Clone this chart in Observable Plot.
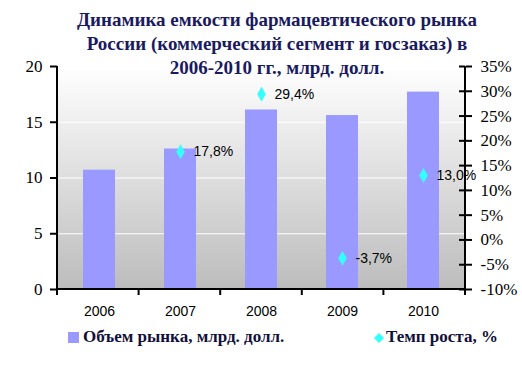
<!DOCTYPE html>
<html>
<head>
<meta charset="utf-8">
<script src="https://cdn.jsdelivr.net/npm/d3@7"></script>
<script src="https://cdn.jsdelivr.net/npm/@observablehq/plot@0.6"></script>
<style>
  html, body { margin: 0; padding: 0; background: #fff; }
  #wrap { position: relative; width: 522px; height: 369px; overflow: hidden; }
  #title { position: absolute; left: 0; top: 8px; width: 554px; text-align: center;
    font-family: "Liberation Serif", "Times New Roman", serif; font-weight: bold; font-size: 19px; line-height: 24px; color: #1a1a60; }
  .leg { position: absolute; font-family: "Liberation Serif", "Times New Roman", serif; font-weight: bold; font-size: 17px; line-height: 20px; color: #10103a; white-space: nowrap; }
</style>
</head>
<body>
<div id="wrap">
  <div id="chart"></div>
  <div id="title">Динамика емкости фармацевтического рынка<br>России (коммерческий сегмент и госзаказ) в<br>2006-2010 гг., млрд. долл.</div>
  <div id="legend"></div>
</div>
<script>
const years = ["2006", "2007", "2008", "2009", "2010"];
const volume = [10.7, 12.6, 16.1, 15.6, 17.7];
const growthYears = ["2007", "2008", "2009", "2010"];
const growth = [17.8, 29.4, -3.7, 13.0];
const growthLabels = ["17,8%", "29,4%", "-3,7%", "13,0%"];
const leftTicks = [0, 5, 10, 15, 20];
const rightTicks = [-10, -5, 0, 5, 10, 15, 20, 25, 30, 35];
const legendNames = ["Объем рынка, млрд. долл.", "Темп роста, %"];
const barColor = "#9999ff";
const dotColor = "#33ffff";
const serifFont = "'Liberation Serif', 'Times New Roman', serif";
const sansFont = "'Liberation Sans', Arial, sans-serif";

const volMax = 20, rateMin = -10, rateMax = 35;
const toY = r => (r - rateMin) / (rateMax - rateMin) * volMax;
const fromY = v => Math.round(v / volMax * (rateMax - rateMin) + rateMin);

const bars = years.map((year, i) => ({year, volume: volume[i]}));
const rates = growthYears.map((year, i) => ({year, rate: growth[i], y: toY(growth[i]), label: growthLabels[i]}));

function decor(...args) {
  const dims = args.find(a => a && a.marginLeft !== undefined);
  const {width, height, marginLeft: ml, marginRight: mr, marginTop: mt, marginBottom: mb} = dims;
  const x0 = ml, x1 = width - mr, y0 = mt, y1 = height - mb;
  const g = d3.create("svg:g");
  const defs = g.append("defs");
  const grad = defs.append("linearGradient").attr("id", "bggrad").attr("x1", 0).attr("y1", 0).attr("x2", 0).attr("y2", 1);
  grad.append("stop").attr("offset", "0%").attr("stop-color", "#ffffff");
  grad.append("stop").attr("offset", "100%").attr("stop-color", "#bcbcbc");
  g.append("rect").attr("x", x0).attr("y", y0).attr("width", x1 - x0).attr("height", y1 - y0).attr("fill", "url(#bggrad)");
  return g.node();
}

function axesLines(...args) {
  const dims = args.find(a => a && a.marginLeft !== undefined);
  const {width, height, marginLeft: ml, marginRight: mr, marginTop: mt, marginBottom: mb} = dims;
  const x0 = ml, x1 = width - mr, y0 = mt, y1 = height - mb;
  const g = d3.create("svg:g").attr("stroke", "#000").attr("stroke-width", 2).attr("fill", "none");
  g.append("line").attr("x1", x0).attr("x2", x0).attr("y1", y0).attr("y2", y1 + 1);
  g.append("line").attr("x1", x1).attr("x2", x1).attr("y1", y0).attr("y2", y1 + 1);
  g.append("line").attr("x1", x0 - 1).attr("x2", x1 + 1).attr("y1", y1).attr("y2", y1);
  const step = (x1 - x0) / years.length;
  for (let i = 0; i <= years.length; i++) {
    const xx = x0 + i * step;
    g.append("line").attr("x1", xx).attr("x2", xx).attr("y1", y1).attr("y2", y1 + 6);
  }
  return g.node();
}

const chart = Plot.plot({
  width: 522,
  height: 369,
  marginLeft: 57,
  marginRight: 57,
  marginTop: 66,
  marginBottom: 80,
  style: {fontFamily: serifFont, fontSize: "17px", color: "#000", background: "transparent"},
  x: {domain: years, paddingInner: 0.6, paddingOuter: 0.3, axis: null},
  y: {domain: [0, volMax], axis: null},
  marks: [
    decor,
    Plot.ruleY([5, 10, 15], {stroke: "#ffffff", strokeWidth: 1}),
    Plot.barY(bars, {x: "year", y: "volume", fill: barColor}),
    Plot.axisY(leftTicks, {anchor: "left", label: null, tickSize: 7, tickPadding: 8, strokeWidth: 2, fontSize: 17, fontFamily: serifFont, fill: "#000"}),
    Plot.axisY(rightTicks.map(toY), {anchor: "right", label: null, tickSize: 6, tickPadding: 9, strokeWidth: 2, tickFormat: d => fromY(d) + "%", fontSize: 17, fontFamily: serifFont, fill: "#000"}),
    Plot.tickY(rightTicks.map(toY), {y: d => d, insetLeft: 402, stroke: "#000", strokeWidth: 2}),
    Plot.axisX(years, {anchor: "bottom", label: null, tickSize: 0, tickPadding: 17, fontSize: 14, fontFamily: sansFont, fill: "#000", fontWeight: 300}),
    axesLines,
    Plot.dot(rates, {x: "year", y: "y", symbol: "diamond", r: 4.5, fill: dotColor, stroke: null}),
    Plot.text(rates, {x: "year", y: "y", text: "label", dx: 13, textAnchor: "start", lineAnchor: "middle", fontSize: 14, fontFamily: sansFont, fill: "#000"})
  ]
});
document.getElementById("chart").appendChild(chart);

const legend = document.getElementById("legend");
legend.innerHTML =
  `<div style="position:absolute;left:68px;top:332px;width:11px;height:11px;background:${barColor}"></div>` +
  `<div class="leg" style="left:83px;top:327px">${legendNames[0]}</div>` +
  `<svg style="position:absolute;left:373px;top:332px" width="12" height="12"><path d="M6,1L11,6L6,11L1,6Z" fill="${dotColor}"/></svg>` +
  `<div class="leg" style="left:386px;top:327px">${legendNames[1]}</div>`;
</script>
</body>
</html>
